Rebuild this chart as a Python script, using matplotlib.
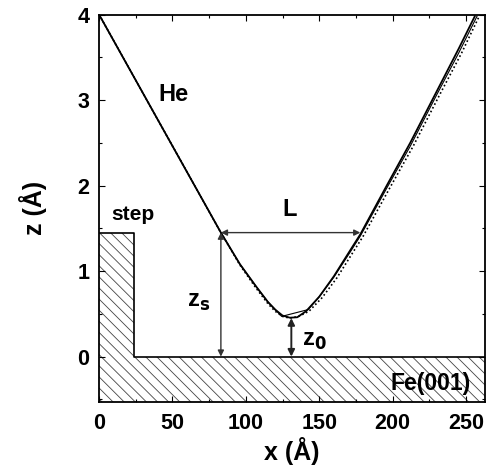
import matplotlib
matplotlib.use("Agg")
import matplotlib.pyplot as plt
from matplotlib.patches import Polygon
from matplotlib.ticker import MultipleLocator

plt.rcParams['font.family'] = ['Liberation Sans', 'DejaVu Sans']
plt.rcParams['font.weight'] = 'bold'
plt.rcParams['hatch.linewidth'] = 0.6
plt.rcParams['hatch.color'] = '#444444'

# --- data ---
x_main = [0, 40, 83, 96, 107, 115, 120, 125, 130, 135, 141, 150, 160, 171, 178, 196, 212, 230, 245, 256]
z_main = [4.0, 2.77, 1.45, 1.08, 0.82, 0.64, 0.55, 0.48, 0.455, 0.46, 0.53, 0.70, 0.94, 1.24, 1.43, 2.0, 2.5, 3.1, 3.6, 3.98]

x_thin = [0, 83, 96, 107, 115, 120, 124.4, 142.5, 150, 160, 171, 178, 196, 212, 230, 245, 257.5]
z_thin = [4.0, 1.45, 1.08, 0.82, 0.64, 0.55, 0.47, 0.55, 0.70, 0.93, 1.22, 1.41, 1.97, 2.46, 3.06, 3.55, 3.98]

x_dot = [0, 83, 96, 107, 115, 120, 125, 130, 136, 143, 152, 162, 173, 180, 198, 214, 232, 247, 259]
z_dot = [4.0, 1.45, 1.07, 0.80, 0.62, 0.53, 0.47, 0.45, 0.47, 0.53, 0.69, 0.92, 1.22, 1.41, 1.97, 2.46, 3.06, 3.55, 3.98]

step_x = 24.0
step_z = 1.45
x_s = 83.0
x_L_end = 178.0
x_0 = 131.0
z_0 = 0.45

xlim = (0, 263)
ylim = (-0.53, 4.0)

fig = plt.figure(figsize=(4.88, 4.69), dpi=100)
ax = fig.add_axes([0.203, 0.143, 0.791, 0.826])

# substrate + step (hatched)
poly = Polygon([(xlim[0], ylim[0]), (xlim[0], step_z), (step_x, step_z), (step_x, 0),
                (xlim[1], 0), (xlim[1], ylim[0])], closed=True,
               facecolor='white', edgecolor='#444444', hatch='\\\\\\', linewidth=0)
ax.add_patch(poly)
ax.plot([xlim[0], step_x, step_x, xlim[1]], [step_z, step_z, 0, 0], color='black', lw=1.2)

# curves
ax.plot(x_dot, z_dot, color='black', lw=1.2, linestyle=(0, (1, 1.5)))
ax.plot(x_thin, z_thin, color='black', lw=0.8)
ax.plot(x_main, z_main, color='black', lw=1.3)

# arrows
akw = dict(arrowstyle='<|-|>', color='#333333', lw=1.0, mutation_scale=9, shrinkA=0, shrinkB=0)
ax.annotate('', xy=(x_s, step_z), xytext=(x_L_end, step_z), arrowprops=akw)
ax.annotate('', xy=(x_s, step_z), xytext=(x_s, 0), arrowprops=akw)
akw2 = dict(arrowstyle='<|-|>', color='#222222', lw=1.4, mutation_scale=10, shrinkA=0, shrinkB=0)
ax.annotate('', xy=(x_0, z_0), xytext=(x_0, 0), arrowprops=akw2)

# labels
ax.text(51, 3.07, 'He', fontsize=17, fontweight='bold', ha='center', va='center')
ax.text(23, 1.66, 'step', fontsize=15, fontweight='bold', ha='center', va='center')
ax.text(130, 1.72, 'L', fontsize=17, fontweight='bold', ha='center', va='center')
ax.text(67.5, 0.65, r'z$_\mathbf{s}$', fontsize=17, fontweight='bold', ha='center', va='center')
ax.text(147, 0.19, r'z$_\mathbf{0}$', fontsize=17, fontweight='bold', ha='center', va='center')
ax.text(226, -0.31, 'Fe(001)', fontsize=16.5, fontweight='bold', ha='center', va='center')

ax.set_xlim(*xlim)
ax.set_ylim(*ylim)
ax.xaxis.set_major_locator(MultipleLocator(50))
ax.xaxis.set_minor_locator(MultipleLocator(25))
ax.yaxis.set_major_locator(MultipleLocator(1))
ax.yaxis.set_minor_locator(MultipleLocator(0.5))
ax.tick_params(which='both', direction='in', top=True, right=True, labelsize=15.5, width=0.8)
ax.tick_params(which='major', length=4)
ax.tick_params(which='minor', length=2.5)
ax.tick_params(axis='x', which='major', pad=8)
ax.tick_params(axis='y', which='major', pad=7)
for lab in ax.get_xticklabels() + ax.get_yticklabels():
    lab.set_fontweight('bold')
for sp in ax.spines.values():
    sp.set_linewidth(1.3)

ax.set_xlabel('x (Å)', fontsize=18, fontweight='bold', labelpad=2)
ax.set_ylabel('z (Å)', fontsize=18, fontweight='bold', labelpad=22)

fig.savefig('out.png', dpi=100)
